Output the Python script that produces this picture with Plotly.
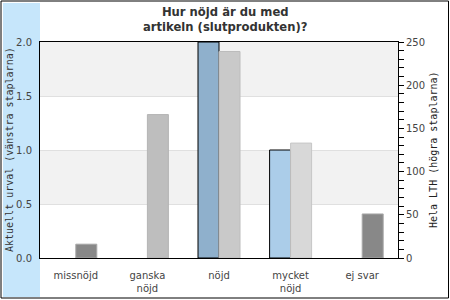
import plotly.graph_objects as go

# ---- data ----
categories = ["missnöjd", "ganska<br>nöjd", "nöjd", "mycket<br>nöjd", "ej svar"]
left_values = [0, 0, 2.0, 1.0, 0]          # Aktuellt urval (left axis)
right_values = [16, 166, 239, 133, 51]     # Hela LTH (right axis)
left_ticks = [0.0, 0.5, 1.0, 1.5, 2.0]
right_ticks = [0, 50, 100, 150, 200, 250]

# ---- styles ----
left_colors = ["#8fb0cc", "#8fb0cc", "#8fb0cc", "#abcde9", "#8fb0cc"]
right_colors = ["#888888", "#bebebe", "#c9c9c9", "#d8d8d8", "#888888"]
right_line_colors = ["#a9a9a9", "#b4b4b4", "#bcbcbc", "#c6c6c6", "#a9a9a9"]

W, H = 450, 300
ML, MR, MT, MB = 40, 52, 42, 42
PW, PH = W - ML - MR, H - MT - MB
BW = 21 / (PW / len(categories))  # bar width in category units

def px_x(x):
    return (x - ML) / PW

def px_y(y):
    return (H - MB - y) / PH

fig = go.Figure()
fig.add_trace(go.Bar(
    x=categories, y=left_values, width=BW, offset=-BW,
    marker=dict(color=left_colors,
                line=dict(color="black", width=[1 if v else 0 for v in left_values])),
    yaxis="y", showlegend=False,
))
fig.add_trace(go.Bar(
    x=categories, y=right_values, width=BW, offset=0,
    marker=dict(color=right_colors,
                line=dict(color=right_line_colors, width=[1 if v else 0 for v in right_values])),
    yaxis="y2", showlegend=False,
))

shapes = [
    # outer frame
    dict(type="rect", xref="paper", yref="paper",
         x0=px_x(1), x1=px_x(448.5), y0=px_y(298), y1=px_y(1),
         line=dict(color="black", width=1), fillcolor="rgba(0,0,0,0)", layer="below"),
    # blue band behind left axis
    dict(type="rect", xref="paper", yref="paper",
         x0=px_x(3), x1=0, y0=px_y(297), y1=px_y(3),
         line=dict(width=0), fillcolor="#c6e6fb", layer="below"),
]
for i in range(0, len(left_ticks) - 1):
    if i % 2 == 1:
        shapes.append(dict(type="rect", xref="paper", yref="y",
                           x0=0, x1=1, y0=left_ticks[i], y1=left_ticks[i + 1],
                           line=dict(width=0), fillcolor="#f2f2f2", layer="below"))

fig.update_layout(
    width=W, height=H,
    margin=dict(l=ML, r=MR, t=MT, b=MB, autoexpand=False),
    paper_bgcolor="white", plot_bgcolor="white",
    barmode="overlay",
    xaxis=dict(type="category", showline=True, linecolor="black", linewidth=1, mirror=True,
               ticks="", showgrid=False, ticklabelstandoff=8,
               tickfont=dict(family="DejaVu Sans", size=10, color="#444444")),
    yaxis=dict(range=[0, 2], tickvals=left_ticks, tickformat=".1f",
               showline=True, linecolor="black", linewidth=1, mirror=True,
               ticks="", showgrid=True, gridcolor="#e0e0e0", gridwidth=1,
               zeroline=False, ticklabelstandoff=5,
               tickfont=dict(family="DejaVu Sans", size=10, color="#444444")),
    yaxis2=dict(range=[0, 250], tickvals=right_ticks, overlaying="y", side="right",
                showline=True, linecolor="black", linewidth=1,
                ticks="outside", ticklen=5, tickcolor="black",
                minor=dict(dtick=10, ticks="outside", ticklen=5, tickcolor="black", showgrid=False),
                showgrid=False, zeroline=False,
                tickfont=dict(family="DejaVu Sans", size=10, color="#444444")),
    shapes=shapes,
    annotations=[
        dict(text="Hur nöjd är du med<br>artikeln (slutprodukten)?", xref="paper", yref="paper",
             x=px_x(225), y=px_y(19), xanchor="center", yanchor="middle",
             showarrow=False,
             font=dict(family="DejaVu Sans", size=11.6, color="#333333", weight="bold")),
        dict(text="Aktuellt urval (vänstra staplarna)", xref="paper", yref="paper",
             x=px_x(9), y=0.5, xanchor="center", yanchor="middle", textangle=-90,
             showarrow=False, font=dict(family="DejaVu Sans Mono", size=10, color="#333333")),
        dict(text="Hela LTH (högra staplarna)", xref="paper", yref="paper",
             x=px_x(433), y=0.5, xanchor="center", yanchor="middle", textangle=-90,
             showarrow=False, font=dict(family="DejaVu Sans Mono", size=10, color="#222222")),
    ],
)

fig.write_html("out.html")
